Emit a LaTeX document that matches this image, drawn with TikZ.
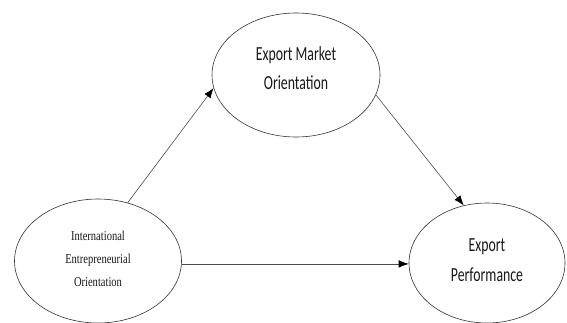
\documentclass[tikz,border=0pt]{standalone}
\usepackage{fontspec}
\newfontfamily\tnr[FakeStretch=0.78]{Liberation Serif}
\newfontfamily\calib[FakeStretch=0.69]{Carlito}
\usetikzlibrary{shapes.geometric,arrows.meta}
\begin{document}
\begin{tikzpicture}[x=1pt,y=-1pt,
  oval/.style={ellipse,draw=black!80,line width=0.6pt,inner sep=0pt},
  lbl/.style={align=center,inner sep=0pt,text=black!90},
  link/.style={draw=black!70,line width=0.6pt,-{Latex[length=10pt,width=7.5pt,color=black]}}]
\useasboundingbox[fill=white] (0,0) rectangle (567,322);
\node[oval,minimum width=167,minimum height=124] (L) at (98,261) {};
\node[lbl,font=\tnr\fontsize{13.5}{23}\selectfont] (Lt) at (98,259)
  {International\\Entrepreneurial\\Orientation};
\node[oval,minimum width=168,minimum height=124] (T) at (296,75) {};
\node[lbl,font=\calib\fontsize{20}{29}\selectfont] (Tt) at (296,68)
  {Export Market\\Orientation};
\node[oval,minimum width=156,minimum height=120] (R) at (487,263) {};
\node[lbl,font=\calib\fontsize{20}{30}\selectfont] (Rt) at (487,260)
  {Export\\Performance};
\draw[link] (L.63) -- (T.189);
\draw[link] (T.-14) -- (R.112);
\draw[link] (L.-2) -- (L.-2 -| R.west);
\end{tikzpicture}
\end{document}
